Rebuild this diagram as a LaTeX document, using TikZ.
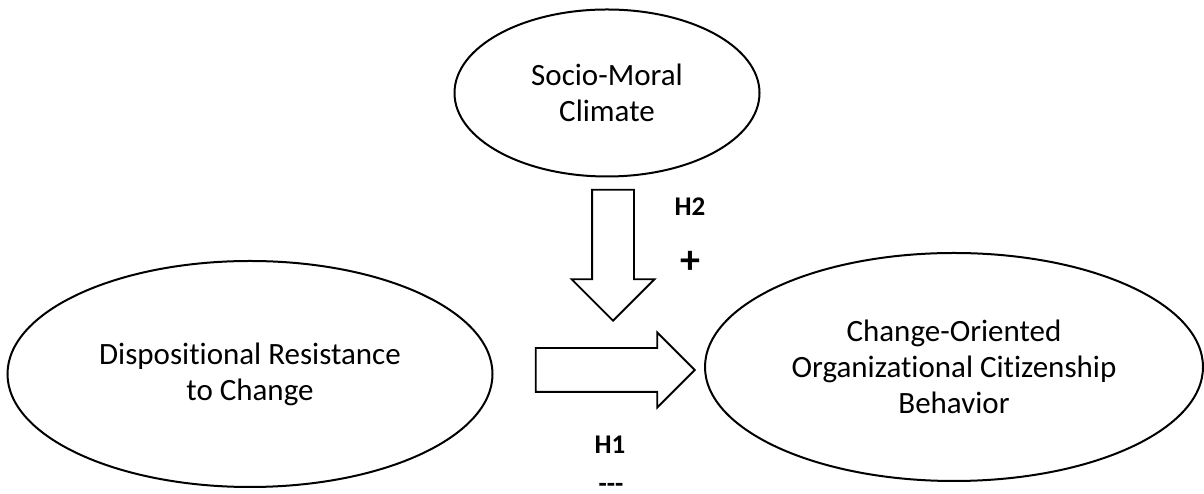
\documentclass[tikz,border=0pt]{standalone}
\usepackage{fontspec}
\setmainfont{Carlito}[Ligatures=NoCommon]
\usetikzlibrary{shapes.geometric,shapes.arrows,positioning}

\begin{document}
\begin{tikzpicture}[x=1pt,y=1pt]
  \tikzstyle{var}=[
    draw, ellipse, line width=2pt,
    inner sep=0pt, align=center,
    font=\fontsize{31}{36}\selectfont
  ]
  \tikzstyle{blockarrow}=[
    draw, single arrow, line width=1.8pt,
    inner xsep=0pt, anchor=tip
  ]
  \tikzstyle{hyp}=[font=\fontsize{27}{30}\selectfont\bfseries]

  \useasboundingbox (0,0) rectangle (1204,494);

  \node[var, minimum width=305pt, minimum height=167pt] (climate) at (607,401) {Socio-Moral\\Climate};
  \node[var, minimum width=485pt, minimum height=226pt] (resistance) at (250,120) {Dispositional Resistance\\to Change};
  \node[var, minimum width=498pt, minimum height=228pt] (ocb) at (954,127) {Change-Oriented\\Organizational Citizenship\\Behavior};

  \node[blockarrow, rotate=-90, minimum height=131pt, inner ysep=20pt,
        single arrow head extend=20.5pt] (moderation) at (613,172) {};
  \node[blockarrow, minimum height=159pt, inner ysep=21pt,
        single arrow head extend=15.5pt] (effect) at (696,124) {};

  \node[hyp] (h2) at (690,287) {H2};
  \node[hyp, font=\fontsize{40}{40}\selectfont\bfseries] (plus) at (690,232) {+};
  \node[hyp] (h1) at (610,49) {H1};
  \node[hyp, inner sep=0pt, text depth=0pt, anchor=base] (minus) at (611,1) {-{}-{}-};
\end{tikzpicture}
\end{document}
